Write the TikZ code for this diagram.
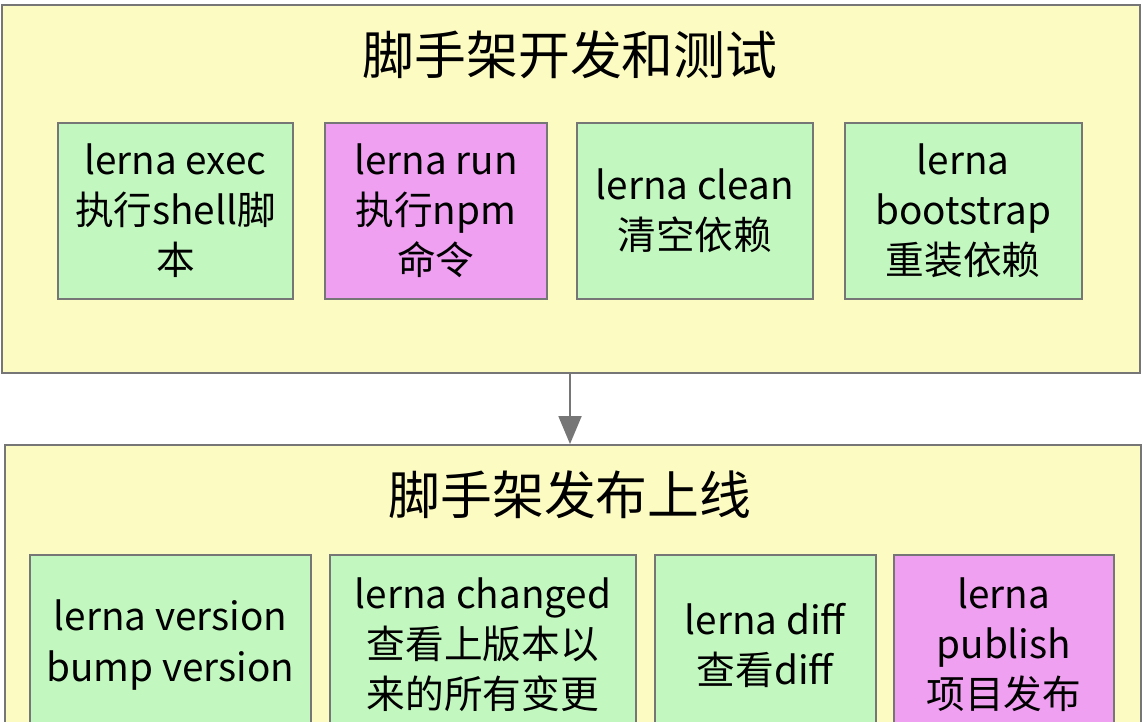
\documentclass[tikz,border=0pt]{standalone}
\usepackage{fontspec}
\newfontfamily\cjk{Noto Sans CJK SC}
\usetikzlibrary{positioning, arrows.meta}

\definecolor{stageyellow}{RGB}{251,251,194}
\definecolor{cmdgreen}{RGB}{194,248,192}
\definecolor{cmdpink}{RGB}{240,160,240}
\definecolor{edgegray}{RGB}{118,118,118}

\begin{document}
\begin{tikzpicture}[
    stage/.style={
        rectangle,
        draw=edgegray,
        line width=1.1pt,
        fill=stageyellow
    },
    title/.style={
        font=\cjk\fontsize{29.5}{34}\selectfont
    },
    cmd/.style={
        rectangle,
        draw=edgegray,
        line width=1.1pt,
        fill=cmdgreen,
        align=center,
        inner sep=0pt,
        font=\cjk\fontsize{22}{28.5}\selectfont
    },
    hot/.style={
        cmd,
        fill=cmdpink
    },
    arrow/.style={
        -{Triangle[length=5.6mm, width=4.6mm]},
        draw=edgegray,
        fill=edgegray,
        line width=1.1pt
    }
]

\useasboundingbox (0,0) rectangle (22.84,-14.42);
\clip (0,0) rectangle (22.84,-14.42);

% stage 1: develop and test
\node[stage, minimum width=22.76cm, minimum height=7.36cm] (dev) at (11.42,-3.78) {};
\node[title] (devtitle) at (11.4,-1.1) {脚手架开发和测试};

\node[cmd, minimum width=4.7cm, minimum height=3.52cm] (exec) at (3.51,-4.22) {lerna exec\\执行shell脚\\本};
\node[hot, minimum width=4.44cm, minimum height=3.52cm, right=0.6cm of exec] (run) {lerna run\\执行npm\\命令};
\node[cmd, minimum width=4.72cm, minimum height=3.52cm, right=0.56cm of run] (clean) {lerna clean\\清空依赖};
\node[cmd, minimum width=4.74cm, minimum height=3.52cm, right=0.6cm of clean] (boot) {lerna\\bootstrap\\重装依赖};

% stage 2: publish
\node[stage, minimum width=22.72cm, minimum height=6.4cm] (pub) at (11.46,-12.1) {};
\node[title] (pubtitle) at (11.4,-9.9) {脚手架发布上线};

\node[cmd, minimum width=5.62cm, minimum height=3.6cm] (version) at (3.41,-12.9) {lerna version\\bump version};
\node[cmd, minimum width=6.12cm, minimum height=3.6cm, right=0.34cm of version] (changed) {lerna changed\\查看上版本以\\来的所有变更};
\node[cmd, minimum width=4.42cm, minimum height=3.6cm, right=0.34cm of changed] (diff) {lerna diff\\查看diff};
\node[hot, minimum width=4.4cm, minimum height=3.6cm, right=0.32cm of diff] (publish) {lerna\\publish\\项目发布};

\draw[arrow] (devtitle |- dev.south) -- (devtitle |- pub.north);

\end{tikzpicture}
\end{document}
